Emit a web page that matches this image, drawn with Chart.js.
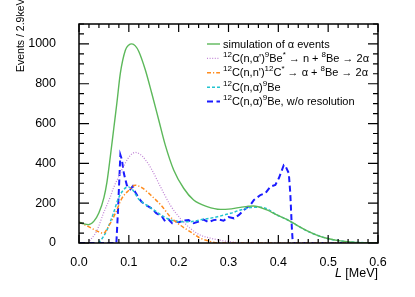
<!DOCTYPE html>
<html>
<head>
<meta charset="utf-8">
<script src="https://cdn.jsdelivr.net/npm/chart.js@4/dist/chart.umd.min.js"></script>
<style>
  html, body { margin: 0; padding: 0; background: #fff; }
  canvas { display: block; }
</style>
</head>
<body>
<canvas id="grafico" width="415" height="297"></canvas>
<script>
// ---- dados ----
const xTickLabels = ['0.0', '0.1', '0.2', '0.3', '0.4', '0.5', '0.6'];
const yTickLabels = ['0', '200', '400', '600', '800', '1000'];

const simX = [0, 0.01, 0.019, 0.03, 0.04, 0.05, 0.056, 0.063, 0.07, 0.076, 0.083, 0.093, 0.1, 0.106, 0.113, 0.12, 0.133, 0.146, 0.16, 0.173, 0.19, 0.21, 0.23, 0.257, 0.284, 0.3, 0.324, 0.35, 0.377, 0.397, 0.417, 0.437, 0.457, 0.477, 0.497, 0.52, 0.55, 0.58, 0.6];
const simY = [105, 96, 92, 110, 152, 228, 305, 437, 580, 703, 853, 968, 995, 1000, 990, 962, 870, 752, 618, 493, 367, 275, 216, 183, 169, 170, 179, 186, 166, 141, 119, 90, 62, 40, 24, 12, 4, 1, 0];

const beStarX = [0.018, 0.036, 0.049, 0.063, 0.069, 0.08, 0.093, 0.103, 0.113, 0.123, 0.133, 0.146, 0.163, 0.183, 0.203, 0.223, 0.243, 0.263, 0.283, 0.303, 0.33, 0.6];
const beStarY = [0, 63, 149, 233, 275, 335, 402, 440, 455, 445, 419, 369, 285, 191, 124, 74, 40, 25, 14, 6, 0, 0];

const cStarX = [0, 0.019, 0.039, 0.049, 0.059, 0.073, 0.086, 0.099, 0.113, 0.126, 0.146, 0.166, 0.183, 0.203, 0.223, 0.243, 0.263, 0.28, 0.6];
const cStarY = [105, 82, 57, 49, 82, 149, 224, 262, 290, 278, 236, 186, 132, 90, 57, 25, 8, 0, 0];

const be9X = [0.039, 0.049, 0.059, 0.069, 0.079, 0.089, 0.098, 0.106, 0.12, 0.133, 0.153, 0.173, 0.19, 0.203, 0.223, 0.243, 0.263, 0.284, 0.304, 0.324, 0.345, 0.365, 0.38, 0.397, 0.417, 0.437, 0.457, 0.477, 0.497, 0.52, 0.55, 0.58, 0.6];
const be9Y = [0, 32, 82, 149, 224, 266, 282, 272, 220, 195, 161, 128, 112, 107, 107, 116, 124, 136, 149, 166, 178, 180, 168, 141, 118, 89, 61, 40, 24, 12, 4, 1, 0];

const rawX = [0, 0.075, 0.078, 0.083, 0.086, 0.09, 0.096, 0.103, 0.108, 0.113, 0.12, 0.126, 0.135, 0.146, 0.155, 0.166, 0.173, 0.18, 0.187, 0.193, 0.2, 0.21, 0.22, 0.23, 0.24, 0.25, 0.26, 0.27, 0.28, 0.29, 0.3, 0.311, 0.321, 0.331, 0.344, 0.351, 0.364, 0.374, 0.384, 0.394, 0.401, 0.411, 0.414, 0.421, 0.424, 0.427, 0.429, 0.6];
const rawY = [0, 0, 150, 443, 420, 350, 290, 270, 285, 255, 225, 206, 190, 173, 150, 135, 108, 118, 100, 110, 105, 112, 115, 100, 108, 118, 105, 115, 118, 112, 130, 124, 141, 166, 191, 216, 241, 250, 283, 292, 325, 392, 389, 350, 250, 82, 0, 0];

const legendLabels = [
    'simulation of \u03b1 events',
    '^{12}C(n,\u03b1\')^{9}Be^{*} \u2192 n + ^{8}Be \u2192 2\u03b1',
    '^{12}C(n,n\')^{12}C^{*} \u2192 \u03b1 + ^{8}Be \u2192 2\u03b1',
    '^{12}C(n,\u03b1)^{9}Be',
    '^{12}C(n,\u03b1)^{9}Be, w/o resolution'
];

const FONTE = '"Liberation Sans", Arial, Helvetica, sans-serif';

function pontos(xs, ys) {
    return xs.map((x, i) => ({ x: x, y: ys[i] }));
}

// texto com sobrescritos tipo ^{12}
function textoRico(ctx, str, x, y, size) {
    const partes = str.split(/(\^\{[^}]*\})/).filter(p => p.length);
    let cx = x;
    partes.forEach(p => {
        let sup = false, t = p;
        if (p.startsWith('^{')) { sup = true; t = p.slice(2, -1); }
        const s = sup ? Math.round(size * 0.7) : size;
        ctx.font = s + 'px ' + FONTE;
        ctx.fillText(t, cx, sup ? y - size * 0.38 : y);
        cx += ctx.measureText(t).width;
    });
    return cx - x;
}

// moldura com ticks para dentro (estilo ROOT)
const molduraPlugin = {
    id: 'moldura',
    afterDatasetsDraw(chart) {
        const { ctx, chartArea: a, scales } = chart;
        const sx = scales.x, sy = scales.y;
        ctx.save();
        ctx.strokeStyle = '#000';
        ctx.lineWidth = 1.5;
        ctx.strokeRect(a.left, a.top, a.right - a.left, a.bottom - a.top);
        ctx.lineWidth = 1.2;
        ctx.beginPath();
        for (let i = 0; i <= 30; i++) {
            const v = i * 0.02;
            const px = sx.getPixelForValue(v);
            const len = (i % 5 === 0) ? 8 : 4;
            ctx.moveTo(px, a.bottom); ctx.lineTo(px, a.bottom - len);
            ctx.moveTo(px, a.top); ctx.lineTo(px, a.top + len);
        }
        for (let v = 0; v <= 1100; v += 50) {
            const py = sy.getPixelForValue(v);
            const len = (v % 200 === 0) ? 10 : 5;
            ctx.moveTo(a.left, py); ctx.lineTo(a.left + len, py);
            ctx.moveTo(a.right, py); ctx.lineTo(a.right - len, py);
        }
        ctx.stroke();

        // títulos dos eixos
        ctx.fillStyle = '#000';
        ctx.textBaseline = 'alphabetic';
        const resto = ' [MeV]';
        ctx.font = '12.5px ' + FONTE;
        const wResto = ctx.measureText(resto).width;
        ctx.textAlign = 'left';
        ctx.fillText(resto, a.right - wResto, 277);
        ctx.font = 'italic 12.5px ' + FONTE;
        ctx.textAlign = 'right';
        ctx.fillText('L', a.right - wResto, 277);

        ctx.save();
        ctx.translate(24, 72);
        ctx.rotate(-Math.PI / 2);
        ctx.font = '10.5px ' + FONTE;
        ctx.textAlign = 'left';
        ctx.fillText('Events / 2.9keV', 0, 0);
        ctx.restore();

        // legenda
        const ds = chart.data.datasets;
        ctx.textAlign = 'left';
        ctx.textBaseline = 'middle';
        legendLabels.forEach((lbl, i) => {
            const y = 44 + i * 14.4;
            const d = ds[i];
            ctx.save();
            ctx.strokeStyle = d.borderColor;
            ctx.lineWidth = d.borderWidth;
            ctx.setLineDash(d.borderDash || []);
            ctx.beginPath();
            ctx.moveTo(207, y); ctx.lineTo(220, y);
            ctx.stroke();
            ctx.restore();
            ctx.fillStyle = '#000';
            textoRico(ctx, lbl, 223, y + 0.5, 11);
        });
        ctx.restore();
    }
};

const ctx = document.getElementById('grafico').getContext('2d');

function serie(rotulo, xs, ys, cor, dash, largura, suave) {
    return {
        label: rotulo,
        data: pontos(xs, ys),
        borderColor: cor,
        borderDash: dash,
        borderWidth: largura,
        pointRadius: 0,
        fill: false,
        tension: 0,
        cubicInterpolationMode: suave ? 'monotone' : 'default'
    };
}

new Chart(ctx, {
    type: 'line',
    data: {
        datasets: [
            serie(legendLabels[0], simX, simY, '#5cb85a', [], 1.4, true),
            serie(legendLabels[1], beStarX, beStarY, '#c287d6', [1, 1.6], 1.3, true),
            serie(legendLabels[2], cStarX, cStarY, '#ff8c1e', [4, 2, 1.2, 2], 1.5, true),
            serie(legendLabels[3], be9X, be9Y, '#22c4cf', [3, 2], 1.5, true),
            serie(legendLabels[4], rawX, rawY, '#1b1bff', [6, 3.5], 2, false)
        ]
    },
    options: {
        responsive: false,
        devicePixelRatio: 1,
        animation: false,
        layout: { padding: { left: 0, right: 37, top: 24, bottom: 0 } },
        plugins: {
            legend: { display: false },
            tooltip: { enabled: false }
        },
        scales: {
            x: {
                type: 'linear',
                min: 0,
                max: 0.6,
                afterFit: s => { s.height = 54; },
                grid: { display: false },
                border: { display: false },
                ticks: {
                    stepSize: 0.1,
                    padding: 4,
                    color: '#000',
                    font: { family: FONTE, size: 12.5 },
                    maxRotation: 0,
                    callback: (v) => xTickLabels[Math.round(v * 10)]
                }
            },
            y: {
                min: 0,
                max: 1100,
                afterFit: s => { s.width = 79; },
                grid: { display: false },
                border: { display: false },
                ticks: {
                    stepSize: 200,
                    includeBounds: false,
                    padding: 15,
                    color: '#000',
                    font: { family: FONTE, size: 12.5 },
                    callback: (v) => yTickLabels[v / 200]
                }
            }
        }
    },
    plugins: [molduraPlugin]
});
</script>
</body>
</html>
